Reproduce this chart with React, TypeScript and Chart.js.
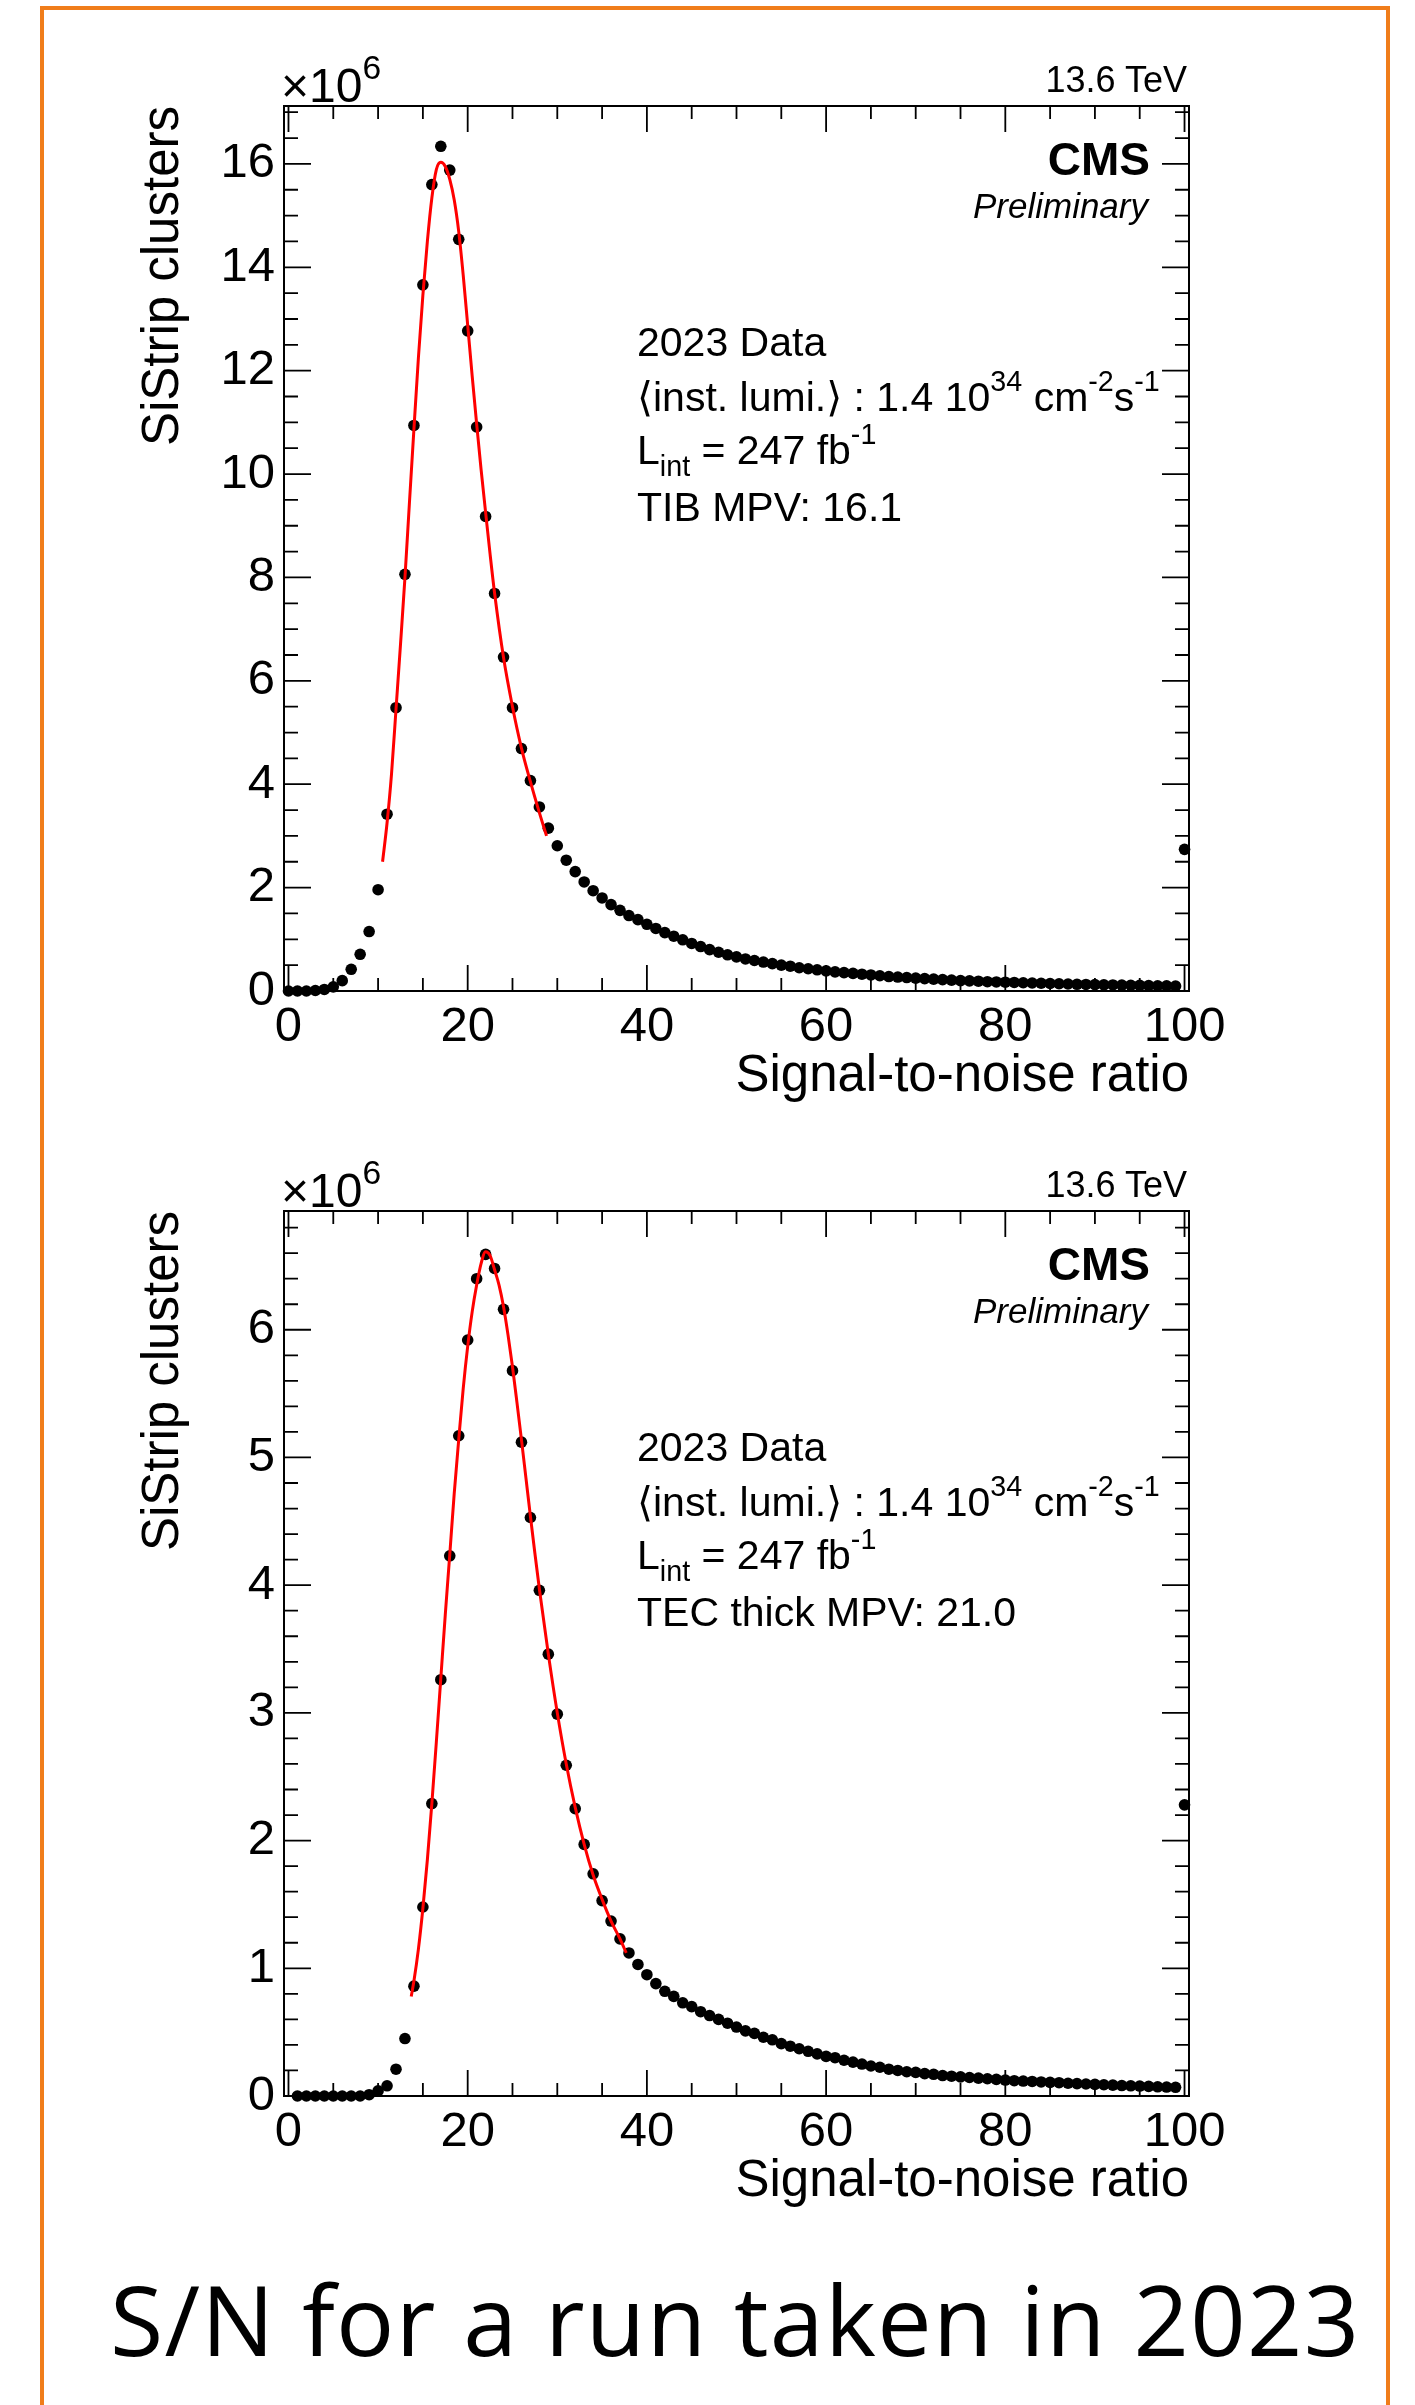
import React, { useEffect, useRef } from 'react';
import { Chart, registerables } from 'chart.js';

Chart.register(...registerables);

const FONT = "'Liberation Sans', Arial, Helvetica, 'DejaVu Sans', sans-serif";
const CAPTION_FONT = "'Open Sans', 'Noto Sans', sans-serif";
const ORANGE = '#F07D1A';

// ---- data (values in units of 10^6 clusters) ----
const SN_BINS = [
  0, 1, 2, 3, 4, 5, 6, 7, 8, 9,
  10, 11, 12, 13, 14, 15, 16, 17, 18, 19,
  20, 21, 22, 23, 24, 25, 26, 27, 28, 29,
  30, 31, 32, 33, 34, 35, 36, 37, 38, 39,
  40, 41, 42, 43, 44, 45, 46, 47, 48, 49,
  50, 51, 52, 53, 54, 55, 56, 57, 58, 59,
  60, 61, 62, 63, 64, 65, 66, 67, 68, 69,
  70, 71, 72, 73, 74, 75, 76, 77, 78, 79,
  80, 81, 82, 83, 84, 85, 86, 87, 88, 89,
  90, 91, 92, 93, 94, 95, 96, 97, 98, 99,
  100,
];

const TIB_COUNTS = [
  0.0, 0.0, 0.0, 0.01, 0.03, 0.08, 0.2, 0.42, 0.71, 1.15,
  1.96, 3.42, 5.48, 8.06, 10.94, 13.66, 15.6, 16.34, 15.88, 14.54,
  12.77, 10.91, 9.18, 7.69, 6.46, 5.48, 4.69, 4.07, 3.56, 3.15,
  2.81, 2.53, 2.31, 2.11, 1.94, 1.8, 1.67, 1.56, 1.46, 1.38,
  1.29, 1.21, 1.13, 1.06, 0.99, 0.92, 0.86, 0.8, 0.75, 0.7,
  0.66, 0.62, 0.59, 0.56, 0.53, 0.5, 0.48, 0.45, 0.43, 0.41,
  0.39, 0.37, 0.355, 0.34, 0.325, 0.31, 0.295, 0.28, 0.27, 0.26,
  0.25, 0.24, 0.23, 0.22, 0.21, 0.2, 0.195, 0.19, 0.18, 0.175,
  0.17, 0.165, 0.16, 0.155, 0.15, 0.145, 0.14, 0.135, 0.13, 0.127,
  0.124, 0.12, 0.117, 0.114, 0.111, 0.108, 0.105, 0.102, 0.099, 0.096,
  2.74,
];

const TEC_COUNTS = [
  null, 0, 0, 0, 0, 0, 0, 0, 0, 0.01,
  0.04, 0.08, 0.21, 0.45, 0.86, 1.48, 2.29, 3.26, 4.23, 5.17,
  5.92, 6.4, 6.59, 6.48, 6.16, 5.68, 5.12, 4.53, 3.96, 3.46,
  2.99, 2.59, 2.25, 1.97, 1.74, 1.53, 1.37, 1.23, 1.12, 1.03,
  0.95, 0.88, 0.82, 0.78, 0.73, 0.7, 0.66, 0.63, 0.6, 0.57,
  0.54, 0.51, 0.49, 0.46, 0.44, 0.41, 0.39, 0.37, 0.35, 0.33,
  0.31, 0.3, 0.28, 0.265, 0.25, 0.235, 0.225, 0.21, 0.2, 0.19,
  0.185, 0.175, 0.17, 0.16, 0.155, 0.15, 0.145, 0.14, 0.135, 0.13,
  0.125, 0.12, 0.117, 0.114, 0.11, 0.107, 0.104, 0.1, 0.097, 0.094,
  0.091, 0.088, 0.085, 0.082, 0.08, 0.078, 0.075, 0.072, 0.07, 0.068,
  2.28,
];

// fitted curves
const TIB_FIT_X = [10.5, 11, 11.5, 12, 12.5, 13, 13.5, 14, 14.5, 15, 15.5, 16, 16.5, 17, 17.5, 18, 18.5, 19, 19.5, 20, 20.5, 21, 21.5, 22, 22.5, 23, 24, 25, 26, 27, 28, 28.8];
const TIB_FIT_Y = [2.5, 3.25, 4.2, 5.45, 6.7, 8.0, 9.45, 10.87, 12.25, 13.46, 14.5, 15.34, 15.89, 16.03, 15.95, 15.7, 15.3, 14.69, 13.85, 12.88, 11.9, 10.97, 10.08, 9.26, 8.45, 7.7, 6.45, 5.5, 4.7, 4.05, 3.45, 3.0];

const TEC_FIT_X = [13.7, 14, 14.5, 15, 15.5, 16, 16.5, 17, 17.5, 18, 18.5, 19, 19.5, 20, 20.5, 21, 21.5, 22, 22.5, 23, 23.5, 24, 24.5, 25, 25.5, 26, 26.5, 27, 27.5, 28, 29, 30, 31, 32, 33, 34, 35, 36, 37, 37.7];
const TEC_FIT_Y = [0.78, 0.9, 1.15, 1.47, 1.85, 2.29, 2.77, 3.27, 3.77, 4.24, 4.72, 5.14, 5.54, 5.87, 6.14, 6.35, 6.52, 6.61, 6.58, 6.47, 6.35, 6.18, 5.96, 5.71, 5.43, 5.14, 4.84, 4.54, 4.25, 3.97, 3.46, 3.0, 2.6, 2.26, 1.97, 1.73, 1.54, 1.37, 1.23, 1.12];

// axes
const X_MIN = -0.5;
const X_MAX = 100.5;
const X_TICKS = [0, 20, 40, 60, 80, 100];
const TIB_Y_TICKS = [0, 2, 4, 6, 8, 10, 12, 14, 16];
const TEC_Y_TICKS = [0, 1, 2, 3, 4, 5, 6];
const TIB_Y_MAX = 17.12;
const TEC_Y_MAX = 6.93;

const X_TITLE = 'Signal-to-noise ratio';
const Y_TITLE = 'SiStrip clusters';

// ROOT-like frame with inward ticks on all four sides
const rootFrame = {
  id: 'rootFrame',
  beforeDatasetsDraw(chart: any, _args: any, opts: any) {
    const { ctx, chartArea: a } = chart;
    const xs = chart.scales.x;
    const ys = chart.scales.y;
    const tickSet = (majors: number[], nSub: number, min: number, max: number) => {
      const out: { v: number; major: boolean }[] = [];
      const step = majors[1] - majors[0];
      const sub = step / nSub;
      for (let m = majors[0] - step; m <= majors[majors.length - 1] + step + 1e-9; m += step) {
        for (let k = 0; k < nSub; k++) {
          const v = m + k * sub;
          if (v >= min - 1e-9 && v <= max + 1e-9) out.push({ v, major: k === 0 });
        }
      }
      return out;
    };
    ctx.save();
    ctx.strokeStyle = '#000';
    ctx.lineWidth = 1.8;
    ctx.beginPath();
    for (const t of tickSet(opts.xMajor, opts.xSub, xs.min, xs.max)) {
      const px = xs.getPixelForValue(t.v);
      const len = t.major ? 26 : 13;
      ctx.moveTo(px, a.bottom);
      ctx.lineTo(px, a.bottom - len);
      ctx.moveTo(px, a.top);
      ctx.lineTo(px, a.top + len);
    }
    for (const t of tickSet(opts.yMajor, opts.ySub, ys.min, ys.max)) {
      const py = ys.getPixelForValue(t.v);
      const len = t.major ? 27 : 14;
      ctx.moveTo(a.left, py);
      ctx.lineTo(a.left + len, py);
      ctx.moveTo(a.right, py);
      ctx.lineTo(a.right - len, py);
    }
    ctx.stroke();
    ctx.lineWidth = 2;
    ctx.strokeRect(a.left, a.top, a.right - a.left, a.bottom - a.top);
    ctx.restore();
  },
};

const W = 1415;
const PANEL_H = 1105;

function T(props: {
  x: number;
  y: number;
  size: number;
  align?: 'left' | 'right';
  weight?: number;
  italic?: boolean;
  family?: string;
  spacing?: number;
  children: any;
}) {
  const { x, y, size, align = 'left', weight = 400, italic = false, family = FONT, spacing = 0, children } = props;
  const style: any = {
    position: 'absolute',
    top: y - 0.8465 * size,
    fontFamily: family,
    fontSize: size,
    lineHeight: 1,
    whiteSpace: 'nowrap',
    fontWeight: weight,
    fontStyle: italic ? 'italic' : 'normal',
    letterSpacing: spacing,
    color: '#000',
  };
  if (align === 'right') style.right = W - x;
  else style.left = x;
  return <div style={style}>{children}</div>;
}

const Sup = ({ children }: any) => (
  <span style={{ fontSize: '0.7em', position: 'relative', top: '-0.69em' }}>{children}</span>
);
const Sub = ({ children }: any) => (
  <span style={{ fontSize: '0.7em', position: 'relative', top: '0.4em' }}>{children}</span>
);

function Panel(props: {
  top: number;
  counts: (number | null)[];
  fitX: number[];
  fitY: number[];
  yMax: number;
  yTicks: number[];
  ySub: number;
  mpvLabel: string;
}) {
  const { top, counts, fitX, fitY, yMax, yTicks, ySub, mpvLabel } = props;
  const ref = useRef<HTMLCanvasElement>(null);

  useEffect(() => {
    const points = SN_BINS.map((x, i) => ({ x, y: counts[i] })).filter((p) => p.y !== null);
    const fit = fitX.map((x, i) => ({ x, y: fitY[i] }));
    const chart = new Chart(ref.current as HTMLCanvasElement, {
      type: 'scatter',
      data: {
        datasets: [
          {
            data: fit,
            showLine: true,
            borderColor: '#ff0000',
            borderWidth: 3,
            pointRadius: 0,
            pointHoverRadius: 0,
            cubicInterpolationMode: 'monotone',
            fill: false,
            clip: false,
          } as any,
          {
            data: points,
            showLine: false,
            pointRadius: 5.8,
            pointHoverRadius: 5.8,
            pointBackgroundColor: '#000',
            pointBorderWidth: 0,
            pointBorderColor: '#000',
            clip: false,
          } as any,
        ],
      },
      options: {
        responsive: false,
        animation: false,
        devicePixelRatio: 1,
        events: [],
        layout: { padding: { left: 120, right: 226, top: 106, bottom: 0 } },
        plugins: {
          legend: { display: false },
          tooltip: { enabled: false },
          rootFrame: { xMajor: X_TICKS, xSub: 4, yMajor: yTicks, ySub },
        } as any,
        scales: {
          x: {
            type: 'linear',
            min: X_MIN,
            max: X_MAX,
            afterBuildTicks: (s: any) => {
              s.ticks = X_TICKS.map((v) => ({ value: v }));
            },
            afterFit: (s: any) => {
              s.height = 114;
            },
            grid: { display: false, drawTicks: false },
            border: { display: false },
            ticks: {
              color: '#000',
              font: { family: FONT, size: 49 },
              padding: 7,
              maxRotation: 0,
              autoSkip: false,
              callback: (v: any) => String(v),
            },
            title: {
              display: true,
              text: X_TITLE,
              align: 'end',
              color: '#000',
              font: { family: FONT, size: 51 },
              padding: { top: 0, bottom: -3 },
            },
          },
          y: {
            type: 'linear',
            min: 0,
            max: yMax,
            afterBuildTicks: (s: any) => {
              s.ticks = yTicks.map((v) => ({ value: v }));
            },
            afterFit: (s: any) => {
              s.width = 164;
            },
            grid: { display: false, drawTicks: false },
            border: { display: false },
            ticks: {
              color: '#000',
              font: { family: FONT, size: 49 },
              padding: 9,
              autoSkip: false,
              callback: (v: any) => String(v),
            },
            title: {
              display: true,
              text: Y_TITLE,
              align: 'end',
              color: '#000',
              font: { family: FONT, size: 51 },
              padding: { top: 13, bottom: 0 },
            },
          },
        },
      } as any,
      plugins: [rootFrame as any],
    });
    return () => chart.destroy();
  }, []);

  return (
    <>
      <canvas
        ref={ref}
        width={W}
        height={PANEL_H}
        style={{ position: 'absolute', left: 0, top, width: W, height: PANEL_H }}
      />
      <T x={281} y={top + 103} size={48}>
        ×10<Sup>6</Sup>
      </T>
      <T x={1187} y={top + 92} size={36} align="right">
        13.6 TeV
      </T>
      <T x={1150} y={top + 175} size={46} weight={700} align="right">
        CMS
      </T>
      <T x={1148} y={top + 218} size={35} italic align="right">
        Preliminary
      </T>
      <T x={637} y={top + 357} size={41}>
        2023 Data
      </T>
      <T x={637} y={top + 412} size={41}>
        ⟨inst. lumi.⟩ : 1.4 10<Sup>34</Sup> cm<Sup>-2</Sup>s<Sup>-1</Sup>
      </T>
      <T x={637} y={top + 465} size={41}>
        L<Sub>int</Sub> = 247 fb<Sup>-1</Sup>
      </T>
      <T x={637} y={top + 522} size={41}>
        {mpvLabel}
      </T>
    </>
  );
}

export default function App() {
  return (
    <div
      style={{
        position: 'absolute',
        left: 0,
        top: 0,
        width: W,
        height: 2405,
        overflow: 'hidden',
        background: '#fff',
      }}
    >
      <Panel
        top={0}
        counts={TIB_COUNTS}
        fitX={TIB_FIT_X}
        fitY={TIB_FIT_Y}
        yMax={TIB_Y_MAX}
        yTicks={TIB_Y_TICKS}
        ySub={4}
        mpvLabel="TIB MPV: 16.1"
      />
      <Panel
        top={PANEL_H}
        counts={TEC_COUNTS}
        fitX={TEC_FIT_X}
        fitY={TEC_FIT_Y}
        yMax={TEC_Y_MAX}
        yTicks={TEC_Y_TICKS}
        ySub={5}
        mpvLabel="TEC thick MPV: 21.0"
      />
      <T x={110} y={2352} size={97} family={CAPTION_FONT} spacing={1.3}>
        S/N for a run taken in 2023
      </T>
      <div
        style={{
          position: 'absolute',
          left: 40,
          top: 6,
          width: 1350,
          height: 2440,
          boxSizing: 'border-box',
          border: `4px solid ${ORANGE}`,
          pointerEvents: 'none',
        }}
      />
    </div>
  );
}
